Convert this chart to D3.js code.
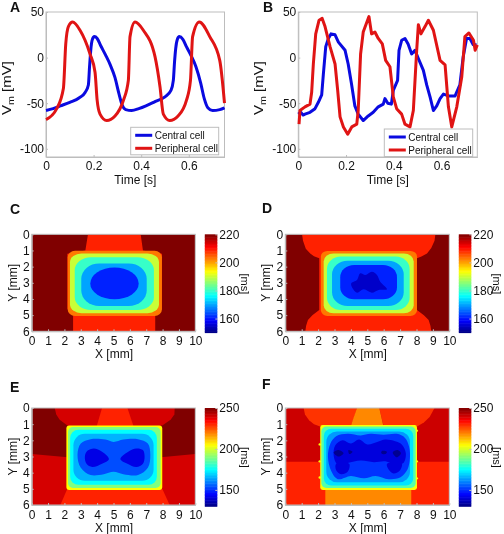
<!DOCTYPE html>
<html><head><meta charset="utf-8">
<script src="https://cdnjs.cloudflare.com/ajax/libs/d3/7.8.5/d3.min.js"></script>
<style>
html,body{margin:0;padding:0;background:#fff}
svg{display:block;filter:blur(.35px)}
text{font-family:"Liberation Sans",Arial,sans-serif;fill:#111}
</style></head><body>
<svg id="c" width="504" height="534"></svg>
<script>
// ---- Action potentials, [time s, Vm mV]
const centralA=[[0,-58],[.03,-56],[.06,-53],[.1,-49],[.14,-44],[.165,-38],[.178,-30],[.183,-10],[.188,8],[.195,20],[.203,23],[.215,21],[.23,13],[.25,3],[.27,-8],[.29,-22],[.305,-38],[.32,-52],[.335,-57],[.36,-58],[.39,-56],[.42,-53],[.46,-48],[.5,-43],[.525,-36],[.535,-25],[.54,-5],[.545,10],[.552,20],[.56,23],[.575,20],[.59,12],[.61,2],[.63,-10],[.65,-28],[.665,-45],[.68,-55],[.7,-58],[.73,-57],[.75,-55]];
const peripheralA=[[0,-68],[.045,-56],[.073,-34],[.083,15],[.094,34],[.112,39],[.143,30],[.185,4],[.206,-16],[.215,-47],[.227,-62],[.255,-69],[.29,-64],[.325,-47],[.346,-25],[.353,23],[.374,39],[.409,30],[.458,1],[.479,-32],[.493,-62],[.52,-69],[.555,-64],[.59,-47],[.607,-25],[.616,23],[.644,39],[.688,23],[.73,-3],[.75,-50]];
const centralB=[[0,-62],[.01,-60],[.02,-63],[.028,-62],[.049,-60],[.07,-56],[.084,-49],[.098,-41],[.105,-18],[.115,12],[.126,21],[.137,26],[.154,25],[.168,17],[.196,8],[.209,-7],[.223,-29],[.237,-53],[.251,-62],[.272,-69],[.293,-64],[.314,-60],[.335,-54],[.356,-51],[.363,-45],[.375,-50],[.39,-51],[.398,-36],[.416,-25],[.422,8],[.433,19],[.447,21],[.46,15],[.475,4],[.489,8],[.503,-1],[.524,-14],[.538,-30],[.552,-43],[.566,-58],[.58,-53],[.594,-45],[.608,-40],[.629,-42],[.657,-42],[.677,-30],[.691,1],[.705,21],[.719,21],[.733,14],[.747,14]];
const peripheralB=[[.003,-73],[.007,-58],[.028,-54],[.049,-51],[.056,-38],[.063,-7],[.073,26],[.087,41],[.1,43],[.112,34],[.133,12],[.154,-7],[.165,-36],[.175,-65],[.189,-76],[.207,-84],[.224,-76],[.245,-73],[.251,-58],[.261,4],[.272,28],[.296,45],[.307,26],[.321,28],[.335,21],[.352,15],[.366,-3],[.384,-10],[.398,-43],[.412,-56],[.433,-62],[.447,-73],[.468,-76],[.482,-58],[.496,8],[.503,36],[.514,26],[.531,34],[.545,41],[.566,30],[.594,-3],[.615,-8],[.629,-54],[.643,-76],[.664,-54],[.685,-21],[.698,23],[.715,27],[.734,19],[.741,8],[.75,14]];
const legendLabels=["Central cell","Peripheral cell"];
const timeTicks=[0,.2,.4,.6];
const vmTicks=[-100,-50,0,50];
const xmmTicks=[0,1,2,3,4,5,6,7,8,9,10];
const ymmTicks=[0,1,2,3,4,5,6];
const barTicksCD=[160,180,200,220];
const barTicksEF=[150,200,250];

// ---- Duration maps: regions {v, p:[[x mm,y mm]...]}, rounded contour bands [v,left,right,top,bottom,rx,ry], core blobs
const regionsC=[{v:220,p:[[0,0],[10,0],[10,6],[0,6]]},
 {v:209,p:[[3.44,0],[6.66,0],[6.8,1],[7.96,1.2],[7.96,4.6],[7.55,5],[7.55,6],[2.53,6],[2.53,5],[2.18,4.6],[2.18,1.2],[3.28,1]]}];
const bandsC=[[203,2.2,7.96,1.02,5.05,.45,.4],[190,2.34,7.78,1.18,4.88,.7,.55],[180,2.63,7.47,1.42,4.68,1,.8],[170,3.03,7.03,1.8,4.43,1.1,.95],[161,3.58,6.54,2.06,4.02,1.48,.98]];
const coresC=[];
const regionsD=[{v:220,p:[[0,0],[10,0],[10,6],[0,6]]},
 {v:209,p:[[1.02,0],[9.15,0],[9.1,.4],[8.9,.85],[8.64,1.18],[8.3,1.38],[8.03,1.48],[8.03,4.68],[8.45,5],[8.74,5.3],[8.85,5.65],[8.9,6],[1.22,6],[1.27,5.65],[1.38,5.3],[1.65,5],[2.07,4.68],[2.07,1.48],[1.75,1.35],[1.52,1.18],[1.25,.9],[1.08,.4]]}];
const bandsD=[[203,2.17,8.03,1.03,5.05,.4,.35],[190,2.34,7.83,1.18,4.89,.6,.5],[180,2.54,7.58,1.38,4.68,.85,.75],[170,2.85,7.22,1.63,4.43,.95,.85],[161,3.35,6.81,1.9,4.02,.85,.75]];
const coresD=[{v:155,p:[[4.02,3.03],[4.37,2.82],[4.57,2.41],[4.88,2.51],[5.28,2.31],[5.59,2.51],[5.79,2.93],[6.2,3.4],[5.69,3.44],[5.28,3.61],[4.78,3.4],[4.37,3.61],[4.1,3.34]]}];
const regionsE=[{v:240,p:[[0,0],[10,0],[10,6],[0,6]]},
 {v:250,p:[[0,0],[2.2,0],[2.2,3.05],[0,2.85]]},{v:250,p:[[7.9,0],[10,0],[10,2.85],[7.9,3.05]]},
 {v:240,p:[[1.41,0],[1.5,.4],[1.71,.72],[2.18,1.09],[3.95,1.09],[4.07,.6],[4.3,0]]},
 {v:240,p:[[5.85,0],[6.25,1.09],[7.98,1.09],[8.49,.72],[8.72,.4],[8.74,0]]},
 {v:231,p:[[4.3,0],[5.85,0],[6.25,1.2],[3.95,1.2]]},
 {v:231,p:[[2.18,5],[7.98,5],[8.43,6],[1.75,6]]}];
const bandsE=[[205,2.12,7.98,1.09,5.07,.18,.18],[190,2.22,7.88,1.18,4.95,.3,.3],[175,2.35,7.65,1.35,4.75,.5,.5],[166,2.55,7.45,1.6,4.5,.7,.7]];
const coresE=[{v:154,p:[[2.8,2.9],[3,2.2],[3.6,1.93],[4.5,1.95],[5,2.1],[5.6,1.95],[6.5,1.93],[7.1,2.2],[7.25,2.9],[7.1,3.7],[6.5,4.15],[5.6,4.1],[5,3.95],[4.4,4.1],[3.6,4.15],[3,3.7]]},
 {v:142,p:[[3.25,3],[3.4,2.65],[3.8,2.5],[4.3,2.7],[4.72,3.15],[4.3,3.45],[3.7,3.65],[3.35,3.45]]},
 {v:142,p:[[5.42,3.15],[5.9,2.7],[6.4,2.5],[6.8,2.6],[6.9,3],[6.8,3.45],[6.4,3.65],[5.85,3.45]]}];
const regionsF=[{v:231,p:[[0,0],[10,0],[10,6],[0,6]]},
 {v:241,p:[[0,0],[10,0],[10,3.33],[0,3.33]]},
 {v:229,p:[[1.12,0],[1.2,.4],[1.45,.75],[1.75,1],[2.13,1.15],[3.96,1.15],[4.17,.68],[4.37,0]]},
 {v:229,p:[[5.73,0],[6,1.15],[8.03,1.15],[8.45,.9],[8.8,.55],[9.1,0]]},
 {v:219,p:[[4.37,0],[5.73,0],[6,1.2],[3.96,1.2]]},
 {v:219,p:[[2.44,4.9],[7.68,4.9],[7.68,6],[2.44,6]]}];
const bandsF=[[204,2.13,8.03,1.05,5.07,.15,.15],[185,2.2,7.95,1.15,4.95,.3,.3],[172,2.35,7.8,1.28,4.8,.45,.45],[163,2.5,7.6,1.45,4.6,.65,.65]];
const coresF=[{v:151,p:[[2.6,3],[2.75,2.2],[3.1,1.75],[3.8,1.6],[4.6,1.7],[5.2,1.6],[6,1.65],[6.8,1.6],[7.3,1.85],[7.55,2.4],[7.6,3.1],[7.45,3.8],[7,4.3],[6.3,4.4],[5.5,4.2],[4.8,4.35],[4,4.2],[3.2,4.4],[2.8,3.9]]},
 {v:141,p:[[2.95,2.95],[3.05,2.3],[3.5,2],[4,2.2],[4.5,1.95],[5,2.25],[5.6,2.1],[6.1,1.95],[6.7,2.05],[7.1,2.25],[7.35,2.8],[7.2,3.4],[6.7,3.5],[6.1,3.3],[5.4,3.35],[4.6,3.25],[3.8,3.4],[3.2,3.5]]},
 {v:141,p:[[3.1,3.45],[3.9,3.45],[3.8,3.95],[3.4,4.1],[3.1,3.85]]},
 {v:141,p:[[6.2,3.45],[7.1,3.4],[7,3.85],[6.6,4.05],[6.3,3.8]]},
 {v:132,p:[[2.95,2.75],[3.25,2.6],[3.55,2.8],[3.25,3]]},
 {v:132,p:[[3.85,2.6],[4.1,2.7],[3.9,2.85]]},
 {v:132,p:[[5.9,2.65],[6.2,2.7],[6.1,2.85],[5.85,2.8]]},
 {v:132,p:[[6.55,2.75],[6.85,2.6],[7.05,2.8],[6.8,3.05]]}];
const edgeBumpsF=[[2.1,2.25],[2.1,3.3],[2.1,4.3],[8.02,1.4],[8.02,3.3],[8.02,4.35]];

// ---- Rendering
const svg=d3.select("#c");
const GREY="#bdbdbd";
const FS="12px";
const jet=d3.scaleLinear().domain([0,.125,.375,.625,.875,1])
  .range(["#000080","#0000ff","#00ffff","#ffff00","#ff0000","#800000"]).clamp(true);
const plain=d=>String(d);

function style(g){
  g.selectAll("text").style("font-size",FS).attr("fill","#111");
  g.selectAll("line").attr("stroke",GREY);
  g.selectAll(".domain").attr("stroke",GREY);
}
function letter(t,x,y){svg.append("text").attr("x",x).attr("y",y).style("font-size","14px").style("font-weight","bold").text(t);}

function linePanel(o){
  const x=d3.scaleLinear().domain([0,.75]).range([o.x0,o.x1]);
  const y=d3.scaleLinear().domain([-109,50]).range([o.y1,o.y0]);
  svg.append("rect").attr("x",o.x0).attr("y",o.y0).attr("width",o.x1-o.x0).attr("height",o.y1-o.y0).attr("fill","none").attr("stroke",GREY);
  const gx=svg.append("g").attr("transform",`translate(0,${o.y1})`)
    .call(d3.axisBottom(x).tickValues(timeTicks).tickFormat(d=>d===0?"0":d3.format(".1f")(d)).tickSizeInner(-2).tickSizeOuter(0).tickPadding(4));
  const gy=svg.append("g").attr("transform",`translate(${o.x0},0)`)
    .call(d3.axisLeft(y).tickValues(vmTicks).tickFormat(plain).tickSizeInner(-2).tickSizeOuter(0).tickPadding(2));
  style(gx);style(gy);
  const line=d3.line().x(d=>x(d[0])).y(d=>y(d[1])).curve(o.curve);
  [[o.blue,"#0a0ae0"],[o.red,"#e01414"]].forEach(([d,c])=>{
    svg.append("path").datum(d).attr("d",line).attr("fill","none").attr("stroke",c).attr("stroke-width",3).attr("stroke-linejoin","round");
  });
  svg.append("rect").attr("x",o.lx).attr("y",o.ly).attr("width",o.lw).attr("height",27.5).attr("fill","#fff").attr("stroke",GREY);
  legendLabels.forEach((t,i)=>{
    const yy=o.ly+8+i*13;
    svg.append("line").attr("x1",o.lx+4.5).attr("x2",o.lx+21.5).attr("y1",yy).attr("y2",yy).attr("stroke",i?"#e01414":"#0a0ae0").attr("stroke-width",3);
    svg.append("text").attr("x",o.lx+24).attr("y",yy+3.5).style("font-size","10px").text(t);
  });
  svg.append("text").attr("x",(o.x0+o.x1)/2).attr("y",183.5).attr("text-anchor","middle").style("font-size",FS).text("Time [s]");
  const yl=svg.append("text").attr("transform",`translate(${o.ylx},88) rotate(-90) scale(1.25,1)`).attr("text-anchor","middle").style("font-size",FS);
  yl.append("tspan").text("V");
  yl.append("tspan").attr("dy",3).style("font-size","8.5px").text("m");
  yl.append("tspan").attr("dy",-3).text(" [mV]");
}

function mapPanel(o){
  const x=d3.scaleLinear().domain([0,10]).range([o.x0,o.x1]);
  const y=d3.scaleLinear().domain([0,6]).range([o.y0,o.y1]);
  const c=v=>jet((v-o.lo)/(o.hi-o.lo));
  const clip="clip"+o.id;
  svg.append("clipPath").attr("id",clip).append("rect").attr("x",o.x0).attr("y",o.y0).attr("width",o.x1-o.x0).attr("height",o.y1-o.y0);
  const g=svg.append("g").attr("clip-path",`url(#${clip})`);
  const poly=d3.line().x(d=>x(d[0])).y(d=>y(d[1])).curve(d3.curveLinearClosed);
  const blob=d3.line().x(d=>x(d[0])).y(d=>y(d[1])).curve(d3.curveCatmullRomClosed);
  o.regions.forEach(r=>g.append("path").attr("d",poly(r.p)).attr("fill",c(r.v)));
  (o.bumps||[]).forEach(b=>g.append("circle").attr("cx",x(b[0])).attr("cy",y(b[1])).attr("r",1.2).attr("fill",c(204)));
  o.bands.forEach(b=>g.append("rect").attr("x",x(b[1])).attr("width",x(b[2])-x(b[1])).attr("y",y(b[3])).attr("height",y(b[4])-y(b[3]))
     .attr("rx",x(b[5])-x(0)).attr("ry",y(b[6])-y(0)).attr("fill",c(b[0])));
  o.cores.forEach(r=>g.append("path").attr("d",blob(r.p)).attr("fill",c(r.v)));
  svg.append("rect").attr("x",o.x0).attr("y",o.y0).attr("width",o.x1-o.x0).attr("height",o.y1-o.y0).attr("fill","none").attr("stroke",GREY);
  const gx=svg.append("g").attr("transform",`translate(0,${o.y1})`)
    .call(d3.axisBottom(x).tickValues(xmmTicks).tickFormat(plain).tickSizeInner(-2).tickSizeOuter(0).tickPadding(5));
  const gy=svg.append("g").attr("transform",`translate(${o.x0},0)`)
    .call(d3.axisLeft(y).tickValues(ymmTicks).tickFormat(plain).tickSizeInner(-2).tickSizeOuter(0).tickPadding(2));
  style(gx);style(gy);
  svg.append("text").attr("x",(o.x0+o.x1)/2+.5).attr("y",Math.min(o.y1+27,532)).attr("text-anchor","middle").style("font-size",FS).text("X [mm]");
  svg.append("text").attr("transform",`translate(${o.x0-15},${(o.y0+o.y1)/2}) rotate(-90)`).attr("text-anchor","middle").style("font-size",FS).text("Y [mm]");
  // colorbar
  const bx=o.x1+9.5,bw=12.5,by1=o.y1+1.3;
  const cb=d3.scaleLinear().domain([o.lo,o.hi]).range([by1,o.y0]);
  const steps=d3.range(64).map(i=>o.lo+(o.hi-o.lo)*i/64);
  const dv=(o.hi-o.lo)/64;
  svg.append("g").selectAll("rect").data(steps).join("rect")
    .attr("x",bx).attr("width",bw).attr("y",d=>cb(d+dv)).attr("height",d=>cb(d)-cb(d+dv)+.5)
    .attr("fill",d=>jet((d+dv/2-o.lo)/(o.hi-o.lo)));
  const ga=svg.append("g").attr("transform",`translate(${bx+bw},0)`)
    .call(d3.axisRight(cb).tickValues(o.ticks).tickFormat(plain).tickSizeInner(-2).tickSizeOuter(0).tickPadding(2));
  style(ga);
  ga.select(".domain").remove();
  svg.append("text").attr("transform",`translate(${o.x1+o.unitGap},${(o.y0+o.y1)/2+1}) rotate(90)`).attr("text-anchor","middle").style("font-size","11px").text("[ms]");
}

linePanel({x0:46,x1:224.5,y0:12,y1:157,ylx:11,blue:centralA,red:peripheralA,curve:d3.curveMonotoneX,lx:130.7,ly:127.3,lw:88});
linePanel({x0:298.3,x1:477.3,y0:12,y1:157,ylx:263,blue:centralB,red:peripheralB,curve:d3.curveLinear,lx:384.3,ly:129,lw:88.4});
mapPanel({id:"C",x0:31.7,x1:195.3,y0:234.3,y1:331.3,lo:150,hi:220,unitGap:45.5,ticks:barTicksCD,regions:regionsC,bands:bandsC,cores:coresC});
mapPanel({id:"D",x0:285.3,x1:449.3,y0:234.3,y1:331.3,lo:150,hi:220,unitGap:43.5,ticks:barTicksCD,regions:regionsD,bands:bandsD,cores:coresD});
mapPanel({id:"E",x0:31.7,x1:195.3,y0:408,y1:505,lo:130,hi:250,unitGap:45.5,ticks:barTicksEF,regions:regionsE,bands:bandsE,cores:coresE});
mapPanel({id:"F",x0:285.3,x1:449.3,y0:408,y1:505,lo:130,hi:250,unitGap:43.5,ticks:barTicksEF,regions:regionsF,bands:bandsF,cores:coresF,bumps:edgeBumpsF});

letter("A",10,12);letter("B",263,12);letter("C",10,214);letter("D",262,213);letter("E",10,392);letter("F",262,389);
</script></body></html>
